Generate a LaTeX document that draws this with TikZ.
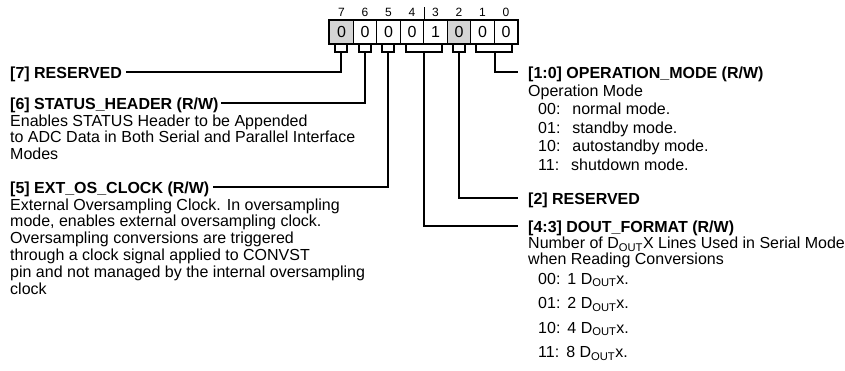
\documentclass[tikz,border=0pt]{standalone}
\usepackage{fontspec}
\setmainfont{Liberation Sans}
\usetikzlibrary{calc}
\begin{document}
\begin{tikzpicture}[x=1pt,y=-1pt,
  cell/.style={draw, line width=1.4pt, minimum width=23.5pt, minimum height=23pt, inner sep=0pt, font=\fontsize{16}{18}\selectfont, anchor=north west},
  rsv/.style={fill=black!17},
  bitnum/.style={font=\fontsize{12}{13}\selectfont, inner sep=0pt},
  hdr/.style={font=\fontsize{16}{18}\selectfont\bfseries, inner sep=0pt, anchor=base west},
  desc/.style={font=\fontsize{16}{16.8}\selectfont, inner sep=0pt, anchor=base west, align=left},
  conn/.style={line width=2pt},
]
\useasboundingbox (0,0) rectangle (845,370);
% register cells
\node[cell, rsv] (c7) at (329,20) {0};
\node[cell] (c6) at (352.5,20) {0};
\node[cell] (c5) at (376,20) {0};
\node[cell] (c4) at (399.5,20) {0};
\node[cell] (c3) at (423,20) {1};
\node[cell, rsv] (c2) at (446.5,20) {0};
\node[cell] (c1) at (470,20) {0};
\node[cell] (c0) at (493.5,20) {0};
\draw[line width=2pt] (c7.north west) rectangle (c0.south east);
% bit numbers
\foreach \b in {7,6,5,4,3,2,1,0}{
  \node[bitnum] (n\b) at ($(c\b.north)+(0,-8)$) {\b};
}
\draw[line width=1pt] (c4.north east) -- ++(0,-13);
% brackets
\foreach \b in {7,6,5,2}{
  \draw[conn] ($(c\b.south)+(-6,0)$) -- ++(0,8) -| ($(c\b.south)+(6,0)$);
  \coordinate (g\b) at ($(c\b.south)+(0,8)$);
}
\draw[conn] ($(c4.south west)+(6,0)$) -- ++(0,8) -| ($(c3.south east)+(-6,0)$);
\coordinate (g43) at ($(c4.south east)+(0,8)$);
\draw[conn] ($(c1.south west)+(6,0)$) -- ++(0,8) -| ($(c0.south east)+(-6,0)$);
\coordinate (g10) at ($(c1.south east)+(0,8)$);
% left texts (multi-line nodes: base = last line)
\node[hdr] (t7) at (10,78) {[7] RESERVED};
\node[hdr] (t6) at (10,109) {[6] STATUS\_HEADER (R/W)};
\node[desc] (d6) at (10,159.6) {Enables STATUS Header to be Appended\\to ADC Data in Both Serial and Parallel Interface\\Modes};
\node[hdr] (t5) at (10,193) {[5] EXT\_OS\_CLOCK (R/W)};
\node[desc] (d5) at (10,294) {External Oversampling Clock. In oversampling\\mode, enables external oversampling clock.\\Oversampling conversions are triggered\\through a clock signal applied to CONVST\\pin and not managed by the internal oversampling\\clock};
% right texts
\node[hdr] (t10) at (528,78) {[1:0] OPERATION\_MODE (R/W)};
\node[desc, font=\fontsize{16}{18.6}\selectfont] (d10) at (528,170.4) {Operation Mode\\
\hspace*{10pt}00:\hspace*{12pt}normal mode.\\
\hspace*{10pt}01:\hspace*{12pt}standby mode.\\
\hspace*{10pt}10:\hspace*{12pt}autostandby mode.\\
\hspace*{10pt}11:\hspace*{12pt}shutdown mode.};
\node[hdr] (t2) at (528,204) {[2] RESERVED};
\node[hdr] (t43) at (528,232) {[4:3] DOUT\_FORMAT (R/W)};
\node[desc, font=\fontsize{16}{15.5}\selectfont] (d43) at (528,357.5) {Number of D\textsubscript{OUT}X Lines Used in Serial Mode\\
when Reading Conversions\\[4.5pt]
\hspace*{10pt}00:\hspace*{7pt}1 D\textsubscript{OUT}x.\\[9pt]
\hspace*{10pt}01:\hspace*{7pt}2 D\textsubscript{OUT}x.\\[9pt]
\hspace*{10pt}10:\hspace*{7pt}4 D\textsubscript{OUT}x.\\[9pt]
\hspace*{10pt}11:\hspace*{7pt}8 D\textsubscript{OUT}x.};
% connectors
\coordinate (e7) at ($(t7.base east)+(4,-5.7)$);
\coordinate (e6) at ($(t6.base east)+(2,-5.7)$);
\coordinate (e5) at ($(t5.base east)+(3,-5.7)$);
\coordinate (e10) at ($(t10.base west)+(-10,-5.7)$);
\coordinate (e2) at ($(t2.base west)+(-10,-5.7)$);
\coordinate (e43) at ($(t43.base west)+(-10,-5.7)$);
\draw[conn] (g7) |- (e7);
\draw[conn] (g6) |- (e6);
\draw[conn] (g5) |- (e5);
\draw[conn] (g10) |- (e10);
\draw[conn] (g2) |- (e2);
\draw[conn] (g43) |- (e43);
\end{tikzpicture}
\end{document}
